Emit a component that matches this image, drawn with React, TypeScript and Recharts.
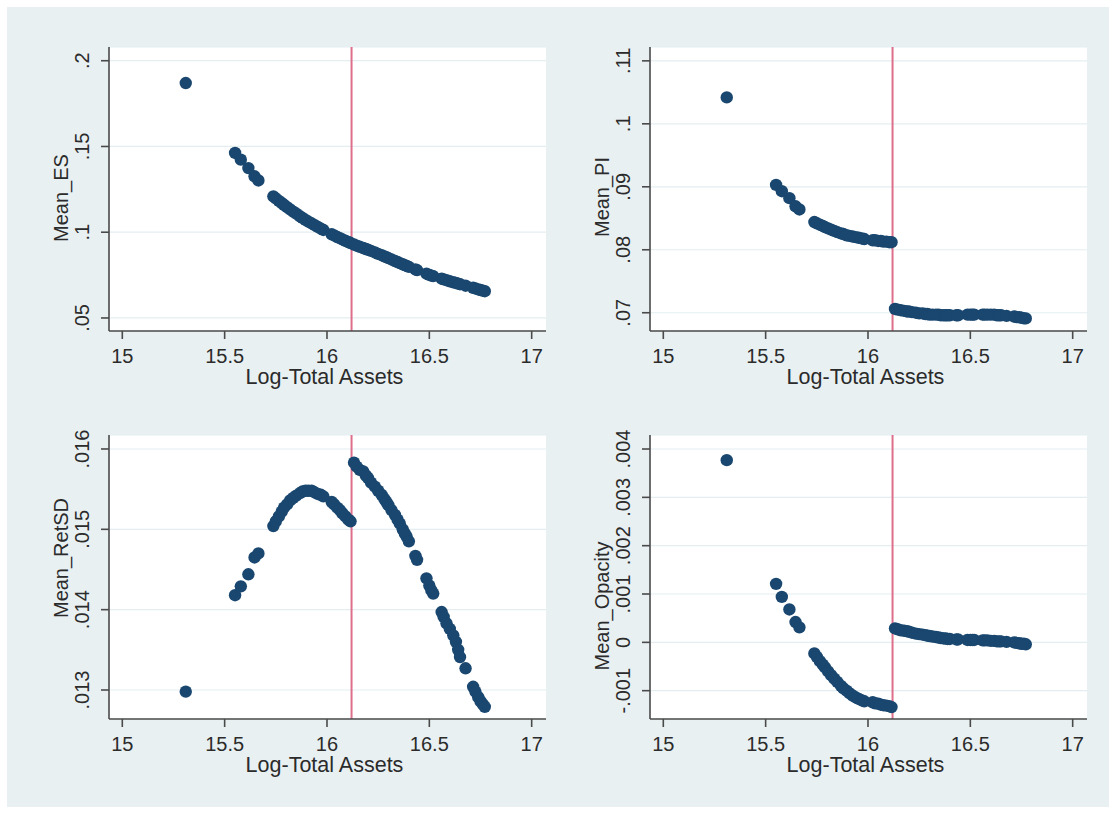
import React from "react";
import {
  ScatterChart,
  Scatter,
  XAxis,
  YAxis,
  CartesianGrid,
  ReferenceLine,
  Label,
} from "recharts";

// log total assets, shared by all four panels
const logAssets = [
  15.31, 15.551, 15.579, 15.616, 15.646, 15.665,
  15.738, 15.75, 15.765, 15.779, 15.79, 15.805, 15.82, 15.835, 15.85, 15.868,
  15.88, 15.895, 15.909, 15.925, 15.94, 15.955, 15.97, 15.982,
  16.023, 16.035, 16.05, 16.063, 16.075, 16.09, 16.104, 16.115,
  16.132, 16.145, 16.16, 16.177, 16.19, 16.2, 16.215, 16.234, 16.25, 16.267,
  16.28, 16.29, 16.3, 16.315, 16.332, 16.345, 16.356, 16.37, 16.38, 16.389, 16.4,
  16.432, 16.44,
  16.486, 16.5, 16.51, 16.519,
  16.56, 16.57, 16.584, 16.6, 16.617, 16.63, 16.641, 16.65,
  16.677,
  16.714, 16.725, 16.739, 16.75, 16.762, 16.771,
];

const meanES = [
  0.187, 0.1462, 0.1423, 0.1374, 0.1326, 0.1302,
  0.1209, 0.1197, 0.1183, 0.117, 0.116, 0.1146, 0.1133, 0.112, 0.1108, 0.1093,
  0.1083, 0.1072, 0.1062, 0.1051, 0.1041, 0.1031, 0.1021, 0.1013,
  0.0988, 0.0981, 0.0972, 0.0965, 0.0958, 0.095, 0.0943, 0.0937,
  0.0928, 0.0922, 0.0915, 0.0908, 0.0902, 0.0898, 0.0891, 0.0882, 0.0874, 0.0866,
  0.0859, 0.0855, 0.0849, 0.0841, 0.0832, 0.0826, 0.082, 0.0813, 0.0808, 0.0804, 0.0798,
  0.0783, 0.0779,
  0.0758, 0.0751, 0.0747, 0.0744,
  0.0729, 0.0725, 0.072, 0.0714, 0.0708, 0.0704, 0.07, 0.0697,
  0.0688,
  0.0676, 0.0672, 0.0667, 0.0663, 0.0659, 0.0656,
];

const meanPI = [
  0.1042, 0.0903, 0.0893, 0.0882, 0.0869, 0.0864,
  0.0844, 0.0842, 0.084, 0.0838, 0.0836, 0.0834, 0.0832, 0.083, 0.0828, 0.0826,
  0.0825, 0.0823, 0.0822, 0.0821, 0.082, 0.0819, 0.0818, 0.0817,
  0.0815, 0.0815, 0.0814, 0.0814, 0.0813, 0.0813, 0.0812, 0.0812,
  0.0706, 0.0705, 0.0704, 0.0703, 0.0702, 0.0702, 0.0701, 0.07, 0.0699, 0.0699,
  0.0698, 0.0698, 0.0697, 0.0697, 0.0697, 0.0697, 0.0696, 0.0696, 0.0696, 0.0696, 0.0696,
  0.0696, 0.0696,
  0.0697, 0.0697, 0.0697, 0.0697,
  0.0697, 0.0697, 0.0697, 0.0697, 0.0697, 0.0696, 0.0696, 0.0696,
  0.0695,
  0.0694, 0.0693, 0.0693, 0.0692, 0.0691, 0.0691,
];

const meanRetSD = [
  0.01298, 0.01418, 0.01429, 0.01444, 0.01465, 0.0147,
  0.01504, 0.0151, 0.01516, 0.01522, 0.01527, 0.01531, 0.01536, 0.01539, 0.01542, 0.01545,
  0.01547, 0.01548, 0.01548, 0.01548, 0.01546, 0.01544, 0.01543, 0.01541,
  0.01534, 0.01531, 0.01527, 0.01524, 0.0152, 0.01516, 0.01512, 0.0151,
  0.01583, 0.01578, 0.01574, 0.01572, 0.01567, 0.01564, 0.01558, 0.01553, 0.01548, 0.01543,
  0.01538, 0.01534, 0.0153, 0.01524, 0.01518, 0.01512, 0.01507, 0.015, 0.01495, 0.01491, 0.01485,
  0.01467, 0.01462,
  0.01439, 0.0143, 0.01424, 0.0142,
  0.01397, 0.01391, 0.01383, 0.01376, 0.01368, 0.0136, 0.0135, 0.01341,
  0.01327,
  0.01304, 0.01298, 0.01291, 0.01286, 0.01282, 0.01279,
];

const meanOpacity = [
  0.00377, 0.00121, 0.00094, 0.00068, 0.00042, 0.00031,
  -0.00023, -0.0003, -0.00039, -0.00046, -0.00052, -0.0006, -0.00068, -0.00075, -0.00082, -0.0009,
  -0.00095, -0.001, -0.00105, -0.0011, -0.00114, -0.00117, -0.0012, -0.00122,
  -0.00124, -0.00126, -0.00127, -0.00129, -0.0013, -0.00131, -0.00132, -0.00134,
  0.00029, 0.00027, 0.00025, 0.00024, 0.00023, 0.00022, 0.0002, 0.00018, 0.00017, 0.00016,
  0.00015, 0.00014, 0.00013, 0.00012, 0.00011, 0.0001, 0.00009, 0.00008, 0.00008, 0.00007, 0.00007,
  0.00006, 0.00006,
  0.00005, 0.00005, 0.00005, 0.00005,
  0.00004, 0.00004, 0.00004, 0.00003, 0.00003, 0.00002, 0.00002, 0.00002,
  0.00001,
  0, -0.00001, -0.00002, -0.00003, -0.00003, -0.00004,
];

const xTicks = [15, 15.5, 16, 16.5, 17];
const esTicks = [0.05, 0.1, 0.15, 0.2];
const piTicks = [0.07, 0.08, 0.09, 0.1, 0.11];
const retsdTicks = [0.013, 0.014, 0.015, 0.016];
const opacityTicks = [-0.001, 0, 0.001, 0.002, 0.003, 0.004];

const cutoff = 16.12;

const FONT = "'Liberation Sans', Arial, sans-serif";
const NAVY = "#1a476f";
const BG = "#e9f0f2";
const AXIS = "#4a4a4a";
const TEXT = "#2b2b2b";

// stata style: .05, -.001, 0
const fmt = (v: number) => {
  if (Math.abs(v) < 1e-12) return "0";
  return String(+v.toFixed(4)).replace(/^(-?)0\./, "$1.");
};

const W = 558;
const H = 407;
const PLOT_LEFT = 109;
const PLOT_RIGHT = 546;
const PLOT_BOTTOM = 331;

const Dot = (props: any) => (
  <circle cx={props.cx} cy={props.cy} r={6.2} fill={NAVY} />
);

const XTick = (props: any) => (
  <text
    x={props.x}
    y={363}
    textAnchor="middle"
    fontSize={20}
    fontFamily={FONT}
    fill={TEXT}
  >
    {fmt(props.payload.value)}
  </text>
);

const YTick = (props: any) => (
  <text
    transform={`translate(89, ${props.y}) rotate(-90)`}
    textAnchor="middle"
    fontSize={20}
    fontFamily={FONT}
    fill={TEXT}
  >
    {fmt(props.payload.value)}
  </text>
);

type PanelProps = {
  title: string;
  values: number[];
  ticks: number[];
  domain: [number, number];
  left: number;
  top: number;
  titleY: number;
};

function Panel({ title, values, ticks, domain, left, top, titleY }: PanelProps) {
  const data = logAssets.map((x, i) => ({ x, y: values[i] }));
  return (
    <div style={{ position: "absolute", left, top, width: W, height: H }}>
      <ScatterChart
        width={W}
        height={H}
        margin={{ top: 47, right: W - PLOT_RIGHT, bottom: 16, left: 49 }}
      >
        <CartesianGrid
          vertical={false}
          fill="#ffffff"
          stroke="#e4eef1"
          strokeWidth={1.2}
        />
        <XAxis
          dataKey="x"
          type="number"
          domain={[14.935, 17.07]}
          ticks={xTicks}
          allowDataOverflow
          height={60}
          tickSize={8}
          stroke={AXIS}
          strokeWidth={1.6}
          tick={<XTick />}
          tickLine={{ stroke: AXIS, strokeWidth: 1.6 }}
        >
          <Label
            content={() => (
              <text
                x={(PLOT_LEFT + PLOT_RIGHT) / 2 - 3}
                y={PLOT_BOTTOM + 53}
                textAnchor="middle"
                fontSize={21.5}
                fontFamily={FONT}
                fill={TEXT}
              >
                Log-Total Assets
              </text>
            )}
          />
        </XAxis>
        <YAxis
          dataKey="y"
          type="number"
          domain={domain}
          ticks={ticks}
          allowDataOverflow
          width={60}
          tickSize={8}
          stroke={AXIS}
          strokeWidth={1.6}
          tick={<YTick />}
          tickLine={{ stroke: AXIS, strokeWidth: 1.6 }}
        >
          <Label
            content={() => (
              <text
                transform={`translate(68, ${titleY}) rotate(-90)`}
                textAnchor="middle"
                fontSize={20}
                fontFamily={FONT}
                fill={TEXT}
              >
                {title}
              </text>
            )}
          />
        </YAxis>
        <ReferenceLine
          x={cutoff}
          stroke="#dd6f8b"
          strokeWidth={2}
          ifOverflow="hidden"
        />
        <Scatter data={data} shape={<Dot />} isAnimationActive={false} />
      </ScatterChart>
    </div>
  );
}

export default function App() {
  return (
    <div
      style={{
        position: "absolute",
        left: 0,
        top: 0,
        width: 1116,
        height: 814,
        background: "#ffffff",
      }}
    >
      <div
        style={{
          position: "absolute",
          left: 7,
          top: 7,
          width: 1102,
          height: 800,
          background: BG,
        }}
      />
      <Panel
        title="Mean_ES"
        values={meanES}
        ticks={esTicks}
        domain={[0.0424, 0.208]}
        left={0}
        top={0}
        titleY={198}
      />
      <Panel
        title="Mean_PI"
        values={meanPI}
        ticks={piTicks}
        domain={[0.0671, 0.1122]}
        left={541}
        top={0}
        titleY={197}
      />
      <Panel
        title="Mean_RetSD"
        values={meanRetSD}
        ticks={retsdTicks}
        domain={[0.012639, 0.016174]}
        left={0}
        top={388}
        titleY={170}
      />
      <Panel
        title="Mean_Opacity"
        values={meanOpacity}
        ticks={opacityTicks}
        domain={[-0.001586, 0.00429]}
        left={541}
        top={388}
        titleY={218}
      />
    </div>
  );
}
